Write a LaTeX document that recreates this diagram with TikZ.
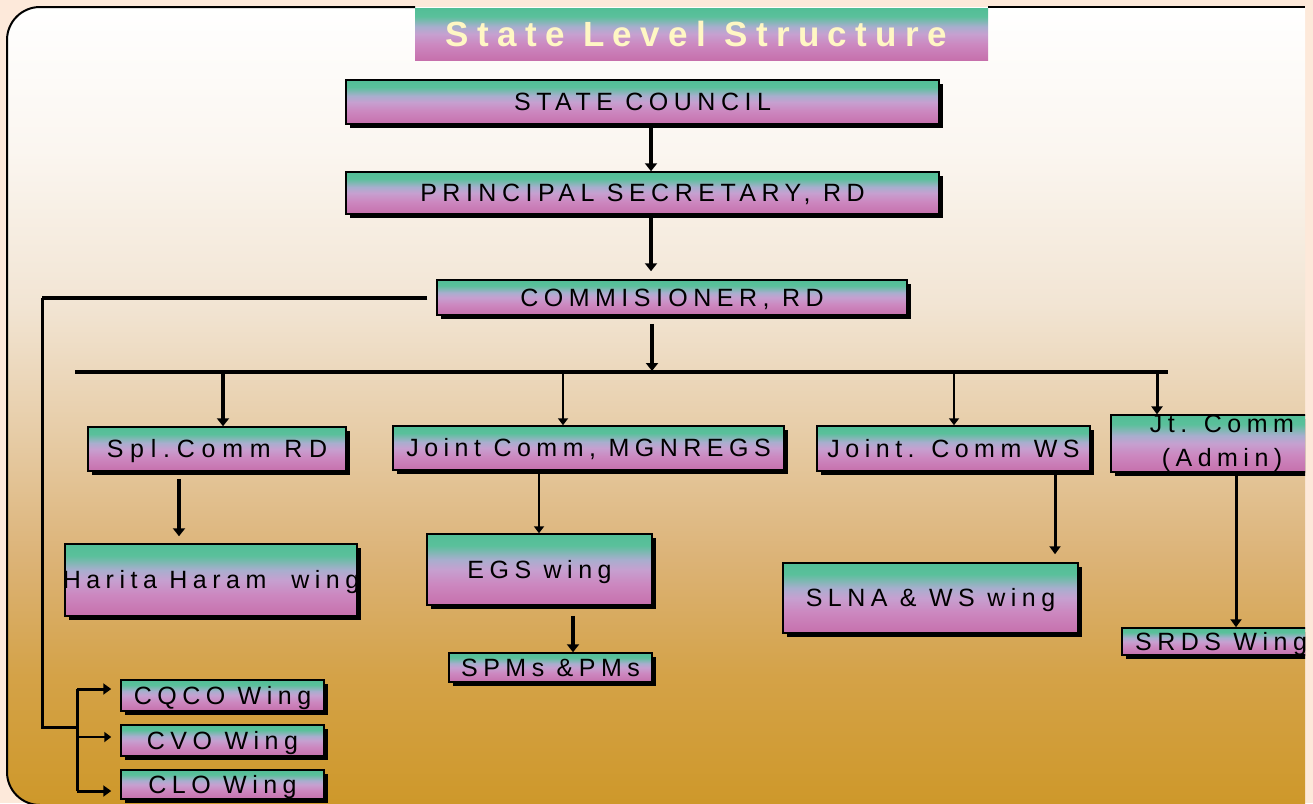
\documentclass[tikz,border=0pt]{standalone}
\usepackage{fontspec}
\setmainfont{Liberation Sans}
\newfontfamily\bxf{Liberation Sans}[LetterSpace=22]
\newfontfamily\bxfw{Liberation Sans}[LetterSpace=27]
\newfontfamily\ttlf{Liberation Sans}[LetterSpace=24]
\usetikzlibrary{arrows.meta,shadows}
\definecolor{outerbg}{HTML}{FDE9DA}
\definecolor{pA}{HTML}{FFFFFF}
\definecolor{pB}{HTML}{FBF6F0}
\definecolor{pC}{HTML}{F2E5D4}
\definecolor{pD}{HTML}{E7CDA8}
\definecolor{pE}{HTML}{DCB377}
\definecolor{pF}{HTML}{D4A247}
\definecolor{pG}{HTML}{CE982A}
\definecolor{bgA}{HTML}{52BE96}
\definecolor{bgB}{HTML}{5AC09B}
\definecolor{bgC}{HTML}{A8AECE}
\definecolor{bgD}{HTML}{C6A0D0}
\definecolor{bgE}{HTML}{CC88C0}
\definecolor{bgF}{HTML}{C670AC}
\definecolor{ttltext}{HTML}{FFF7C4}
\pgfdeclareverticalshading{panelsh}{100bp}{color(0bp)=(pG); color(25bp)=(pG); color(33bp)=(pF); color(40.5bp)=(pE); color(48.5bp)=(pD); color(56.5bp)=(pC); color(66bp)=(pB); color(75bp)=(pA); color(100bp)=(pA)}
\pgfdeclareverticalshading{boxsh}{100bp}{color(0bp)=(bgF); color(25bp)=(bgF); color(40bp)=(bgE); color(50bp)=(bgD); color(57bp)=(bgC); color(67bp)=(bgB); color(75bp)=(bgA); color(100bp)=(bgA)}
\begin{document}
\begin{tikzpicture}[x=1pt,y=-1pt,
  box/.style={shade, shading=boxsh, draw=black, line width=1.5pt, inner sep=0pt,
    drop shadow={shadow xshift=4pt, shadow yshift=-4pt, fill=black, opacity=1},
    font=\bxf\fontsize{25}{30}\selectfont, text=black, text height=17.9pt, text depth=0pt},
  ttlbox/.style={shade, shading=boxsh, inner sep=0pt,
    font=\ttlf\bfseries\fontsize{35}{40}\selectfont, text=ttltext, text height=25pt, text depth=0pt},
  conn/.style={line width=4pt, -{Triangle[width=12pt,length=8pt]}},
  midconn/.style={line width=3pt, -{Triangle[width=11pt,length=8pt]}},
  thinconn/.style={line width=2pt, -{Triangle[width=10pt,length=7pt]}},
  lin/.style={line width=4pt}
]
\useasboundingbox (0,0) rectangle (1313,803);
\fill[outerbg] (0,0) rectangle (1313,803);
\shade[shading=panelsh] (1305,7) -- (40,7) arc[start angle=270,end angle=180,radius=33] -- (7,772) arc[start angle=180,end angle=90,radius=33] -- (1305,805) -- cycle;
\begin{scope}
\clip (1305,7) -- (40,7) arc[start angle=270,end angle=180,radius=33] -- (7,772) arc[start angle=180,end angle=90,radius=33] -- (1305,805) -- cycle;

\node[ttlbox, minimum width=573pt, minimum height=52pt] (ttl) at (701.5,34) {\makebox[0pt]{\hspace*{-10pt}State Level Structure}};

\node[box, minimum width=593pt, minimum height=44pt] (sc) at (642.5,102) {\makebox[0pt]{STATE COUNCIL}};
\node[box, minimum width=593pt, minimum height=42pt] (ps) at (642.5,193) {\makebox[0pt]{PRINCIPAL SECRETARY, RD}};
\node[box, minimum width=470pt, minimum height=35pt] (comm) at (672,297.5) {\makebox[0pt]{COMMISIONER, RD}};

\node[box, minimum width=258pt, minimum height=44pt, font=\bxfw\fontsize{25}{30}\selectfont] (spl) at (217,449) {\makebox[0pt]{Spl.Comm RD}};
\node[box, minimum width=391pt, minimum height=44pt] (mgn) at (588.5,448) {\makebox[0pt]{Joint Comm, MGNREGS}};
\node[box, minimum width=273pt, minimum height=45pt] (ws) at (953.5,448.5) {\makebox[0pt]{Joint. Comm WS}};
\node[box, minimum width=222pt, minimum height=53pt, text height=, text depth=, align=center, font=\bxf\fontsize{25}{34}\selectfont] (adm) at (1222,443.5) {Jt. Comm\\(Admin)};

\node[box, minimum width=292pt, minimum height=72pt] (har) at (211,580) {\makebox[0pt]{Harita Haram~~wing}};
\node[box, minimum width=225pt, minimum height=71pt] (egs) at (539.5,569.5) {\makebox[0pt]{EGS wing}};
\node[box, minimum width=203pt, minimum height=29pt] (spm) at (550.5,667.5) {\makebox[0pt]{SPMs \&PMs}};
\node[box, minimum width=295pt, minimum height=70pt] (slna) at (930.5,598) {\makebox[0pt]{SLNA \& WS wing}};
\node[box, minimum width=198pt, minimum height=27pt] (srds) at (1221,641.5) {\makebox[0pt]{SRDS Wing}};

\node[box, minimum width=203pt, minimum height=31pt] (cqco) at (222.5,695.5) {\makebox[0pt]{CQCO Wing}};
\node[box, minimum width=203pt, minimum height=31pt] (cvo) at (222.5,740.5) {\makebox[0pt]{CVO Wing}};
\node[box, minimum width=203pt, minimum height=29pt] (clo) at (222.5,784.5) {\makebox[0pt]{CLO Wing}};

% spine
\draw[conn] (651,0 |- sc.south) -- (651,0 |- ps.north);
\draw[conn, shorten >=8pt] (651,0 |- ps.south) -- (651,0 |- comm.north);
\coordinate (busL) at (75,372);
\coordinate (busR) at (1168,372);
\draw[conn, shorten <=8pt, shorten >=1pt] (652,0 |- comm.south) -- (652,0 |- busL);
\draw[lin] (busL) -- (busR);
\draw[conn] (223,0 |- busL) -- (223,0 |- spl.north);
\draw[thinconn] (563,0 |- busL) -- (563,0 |- mgn.north);
\draw[thinconn] (954,0 |- busL) -- (954,0 |- ws.north);
\draw[midconn] (1157,0 |- busL) -- (1157,0 |- adm.north);

% left branch
\coordinate (jn) at (42,727);
\coordinate (br) at (77,727);
\coordinate (bq) at (77,689);
\coordinate (bv) at (77,737);
\coordinate (bl) at (77,791);
\draw[lin] ([xshift=-9pt]comm.west) -- (jn |- comm.west);
\draw[line width=3pt] (jn |- comm.west) -- (jn) -- (br);
\draw[line width=3pt] (bq) -- (bl);
\draw[midconn, shorten >=9pt] (bq) -- (bq -| cqco.west);
\draw[thinconn, shorten >=9pt] (bv) -- (bv -| cvo.west);
\draw[midconn, shorten >=9pt] (bl) -- (bl -| clo.west);

% lower arrows
\draw[conn, shorten <=7pt, shorten >=7pt] (179,0 |- spl.south) -- (179,0 |- har.north);
\draw[thinconn] (539,0 |- mgn.south) -- (539,0 |- egs.north);
\draw[conn, shorten <=10pt] (573,0 |- egs.south) -- (573,0 |- spm.north);
\draw[midconn, shorten >=8pt] (1055,0 |- ws.south) -- (1055,0 |- slna.north);
\draw[midconn] (1236,0 |- adm.south) -- (1236,0 |- srds.north);
\end{scope}
% panel border
\draw[line width=2pt] (988,7) -- (1305,7);
\draw[line width=2pt] (415,7) -- (40,7) arc[start angle=270,end angle=180,radius=33] -- (7,772) arc[start angle=180,end angle=90,radius=33];
\end{tikzpicture}
\end{document}
